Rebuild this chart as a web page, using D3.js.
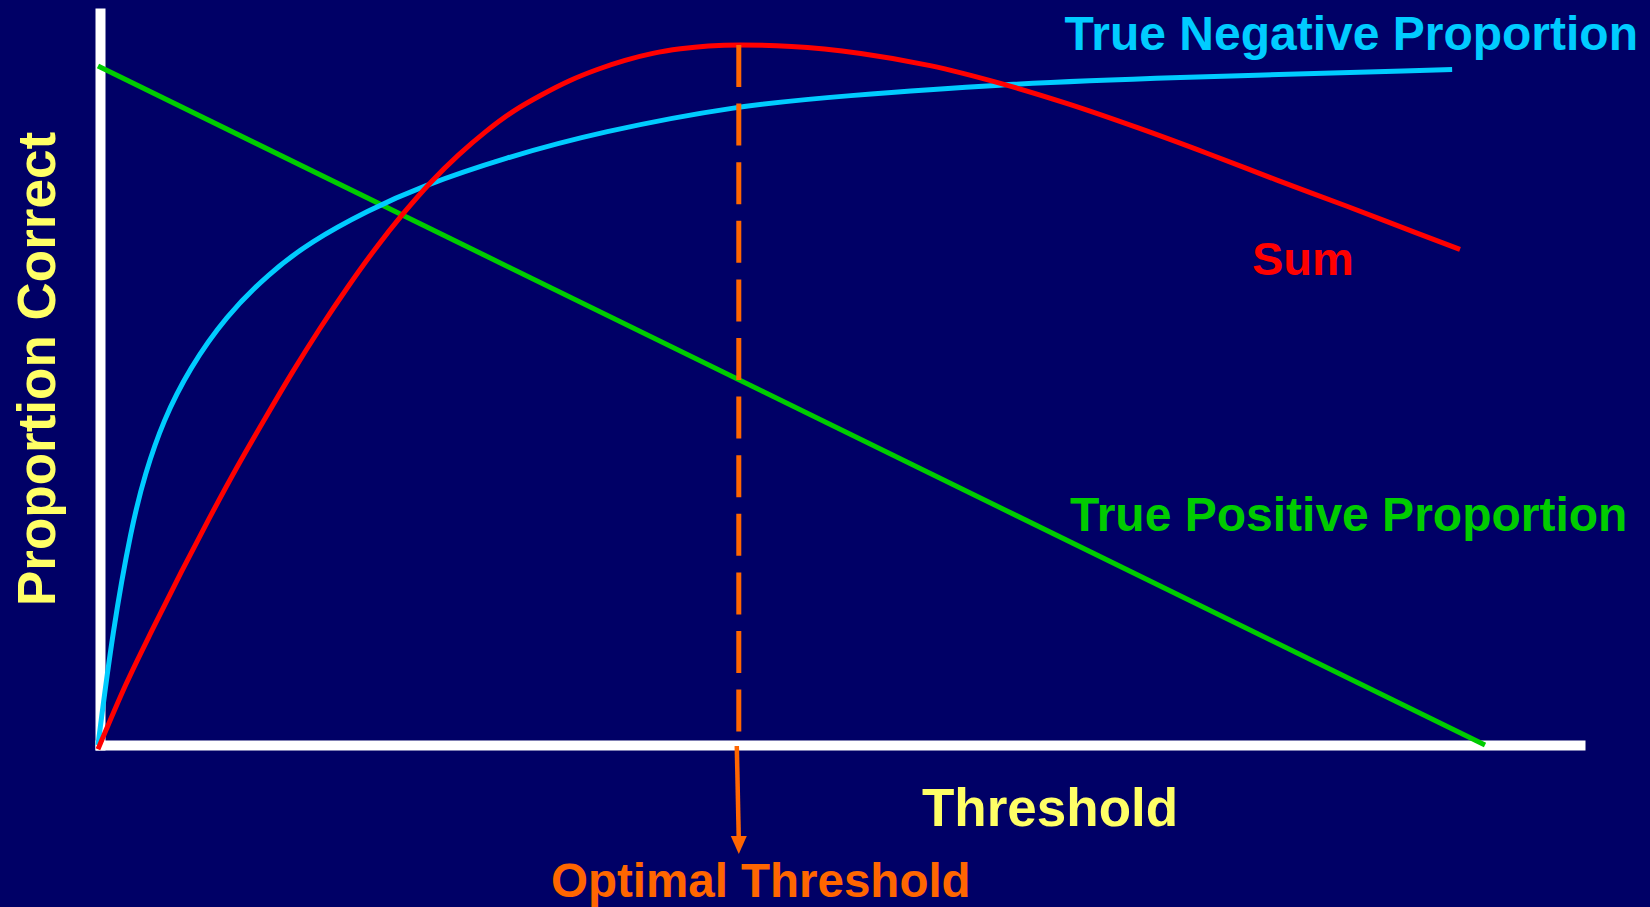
<!DOCTYPE html>
<html>
<head>
<meta charset="utf-8">
<script src="https://cdn.jsdelivr.net/npm/d3@7"></script>
<style>
  html, body { margin: 0; padding: 0; background: #000066; overflow: hidden; }
  svg { display: block; }
  text { font-family: "Liberation Sans", Arial, sans-serif; font-weight: bold; }
</style>
</head>
<body>
<svg id="chart" width="1650" height="907"></svg>
<script>
// ---- Data (arbitrary units 0..100) ----
const tnThreshold = [0, 1.05, 2.42, 3.40, 4.69, 6.59, 9.24, 12.28, 15.31, 19.49, 23.28, 29.35, 36.18, 46.27, 53.6, 65.0, 76.4, 97.63];
const tnValues    = [0, 16.2, 31.3, 38.8, 46.3, 53.8, 61.3, 67.3, 71.9, 76.4, 79.8, 83.9, 87.6, 91.4, 92.7, 94.4, 95.3, 96.5];

const tpThreshold = [0, 100];
const tpValues    = [97, 0];

const sumThreshold = [0, 2, 4, 6, 8, 10, 12, 14, 16, 18, 20, 22, 24, 26, 28, 30, 32, 34, 36, 38, 40, 42, 44, 46.3, 50, 55, 60, 65, 70, 75, 80, 85, 90, 95, 98.2];
const sumValues    = [-0.6, 8.6, 16.8, 24.7, 32.3, 39.6, 46.5, 53.2, 59.5, 65.4, 70.9, 75.9, 80.4, 84.3, 87.7, 90.6, 92.9, 94.9, 96.5, 97.8, 98.8, 99.45, 99.85, 100, 99.8, 98.8, 97.05, 94.55, 91.55, 88.15, 84.5, 80.7, 77.0, 73.2, 70.8];

const optimalThreshold = 46.2;

const labels = {
  yTitle: "Proportion Correct",
  xTitle: "Threshold",
  optimal: "Optimal Threshold",
  tn: "True Negative Proportion",
  tp: "True Positive Proportion",
  sum: "Sum"
};

// ---- Layout ----
const svg = d3.select("#chart");
const W = 1650, H = 907;
svg.append("rect").attr("width", W).attr("height", H).attr("fill", "#000066");

const x = d3.scaleLinear().domain([0, 100]).range([98, 1485]);
const y = d3.scaleLinear().domain([0, 100]).range([745, 45]);

// Axes (plain lines, no ticks)
const axisX = d3.axisBottom(d3.scaleLinear().domain([0, 1]).range([95, 1585])).tickValues([]).tickSizeOuter(0);
const axisY = d3.axisLeft(d3.scaleLinear().domain([0, 1]).range([750, 8])).tickValues([]).tickSizeOuter(0);

const gx = svg.append("g").attr("transform", `translate(0,${y(0)})`).call(axisX);
gx.select(".domain").attr("stroke", "#ffffff").attr("stroke-width", 10);
const gy = svg.append("g").attr("transform", `translate(100,0)`).call(axisY);
gy.select(".domain").attr("stroke", "#ffffff").attr("stroke-width", 10);

// Series
function series(xs, ys, color, curve) {
  const pts = xs.map((d, i) => [d, ys[i]]);
  const line = d3.line().x(d => x(d[0])).y(d => y(d[1])).curve(curve);
  svg.append("path")
    .attr("d", line(pts))
    .attr("fill", "none")
    .attr("stroke", color)
    .attr("stroke-width", 5)
    .attr("stroke-linecap", "butt");
}

series(tpThreshold, tpValues, "#00cc00", d3.curveLinear);
series(tnThreshold, tnValues, "#00ccff", d3.curveBasis);
series(sumThreshold, sumValues, "#ff0000", d3.curveMonotoneX);

// Optimal threshold dashed line
const peak = d3.max(sumValues);
const ox = x(optimalThreshold);
svg.append("line")
  .attr("x1", ox).attr("x2", ox)
  .attr("y1", y(peak)).attr("y2", 733)
  .attr("stroke", "#ff6600").attr("stroke-width", 5)
  .attr("stroke-dasharray", "42,16.6");

// Arrow below axis
svg.append("line")
  .attr("x1", ox - 2).attr("x2", ox)
  .attr("y1", 746).attr("y2", 840)
  .attr("stroke", "#ff6600").attr("stroke-width", 4.5);
svg.append("path")
  .attr("d", `M${ox - 8},836 L${ox + 8},836 L${ox},854 Z`)
  .attr("fill", "#ff6600");

// Texts
svg.append("text")
  .attr("transform", "translate(55,369) rotate(-90)")
  .attr("text-anchor", "middle")
  .attr("font-size", 53)
  .attr("fill", "#ffff66")
  .text(labels.yTitle);

svg.append("text")
  .attr("x", 922).attr("y", 826)
  .attr("font-size", 53)
  .attr("fill", "#ffff66")
  .text(labels.xTitle);

svg.append("text")
  .attr("x", 551).attr("y", 897)
  .attr("font-size", 47.5)
  .attr("fill", "#ff6600")
  .text(labels.optimal);

svg.append("text")
  .attr("x", 1638).attr("y", 50)
  .attr("text-anchor", "end")
  .attr("font-size", 48)
  .attr("fill", "#00ccff")
  .text(labels.tn);

svg.append("text")
  .attr("x", 1070).attr("y", 531)
  .attr("font-size", 48)
  .attr("fill", "#00cc00")
  .text(labels.tp);

svg.append("text")
  .attr("x", 1252).attr("y", 275)
  .attr("font-size", 47)
  .attr("fill", "#ff0000")
  .text(labels.sum);
</script>
</body>
</html>
